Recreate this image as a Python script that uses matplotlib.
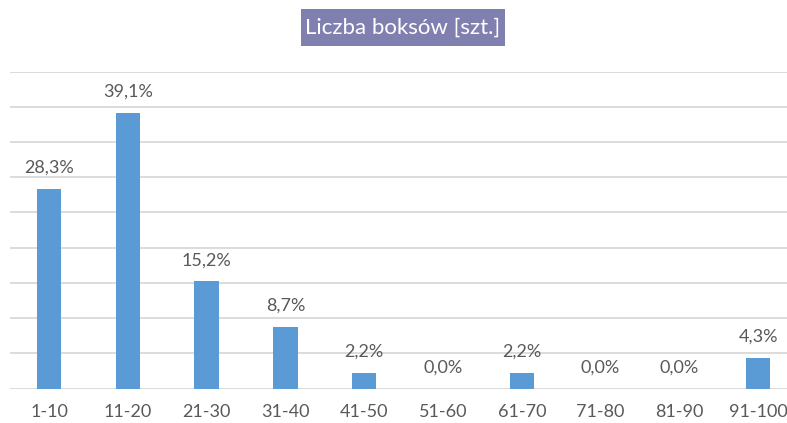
import matplotlib.pyplot as plt
from matplotlib.patches import Rectangle
import numpy as np

# dane z wykresu
kategorie = ['1-10', '11-20', '21-30', '31-40', '41-50',
             '51-60', '61-70', '71-80', '81-90', '91-100']
udzial = [28.3, 39.1, 15.2, 8.7, 2.2, 0.0, 2.2, 0.0, 0.0, 4.3]
tytul = 'Liczba boksów [szt.]'

plt.rcParams['font.family'] = ['Lato', 'DejaVu Sans']

fig = plt.figure(figsize=(7.87, 4.23), dpi=100)
ax = fig.add_axes([9.6 / 787, 34.5 / 423, 788 / 787, 316.8 / 423])

x = np.arange(len(kategorie))
bars = ax.bar(x, udzial, width=0.31, color='#5B9BD5', zorder=3)

for xi, v in zip(x, udzial):
    ax.annotate(f'{v:.1f}%'.replace('.', ','), (xi, v), xytext=(0, 9.5),
                textcoords='offset points', ha='center', va='bottom',
                fontsize=13, color='#595959')

ax.set_xlim(-0.5, len(kategorie) - 0.5)
ax.set_ylim(0, 45)
ax.set_yticks(np.arange(0, 46, 5))
ax.yaxis.grid(True, color='#D9D9D9', linewidth=1.3, zorder=0)
ax.tick_params(axis='y', left=False, labelleft=False)
ax.tick_params(axis='x', length=0, pad=11, labelsize=13, labelcolor='#595959')
ax.set_xticks(x)
ax.set_xticklabels(kategorie)
for s in ax.spines.values():
    s.set_visible(False)

# ramka tytułu
fig.patches.append(Rectangle((301 / 787, 1 - 46 / 423), 204 / 787, 37 / 423,
                             transform=fig.transFigure, facecolor='#8080B0',
                             edgecolor='none'))
fig.text(403 / 787, 1 - 28 / 423, tytul, ha='center', va='center',
         fontsize=16, color='white')

fig.savefig('out.png', dpi=100)
